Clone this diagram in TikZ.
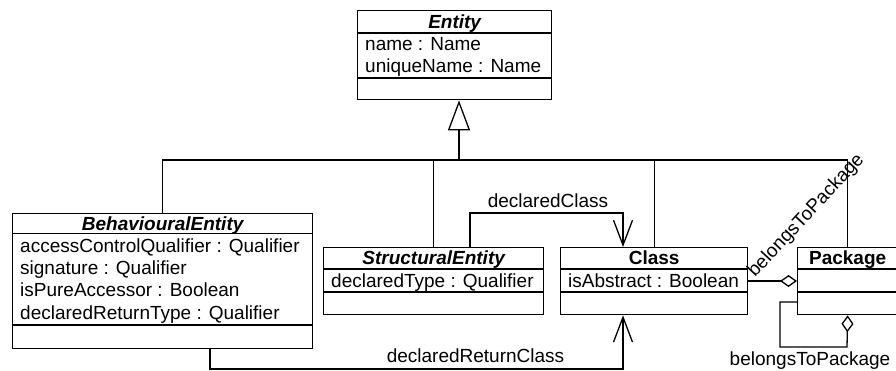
\documentclass[tikz,border=0pt]{standalone}
\usepackage{fontspec}
\setmainfont{Liberation Sans}
\usetikzlibrary{arrows.meta}
\begin{document}
\begin{tikzpicture}[x=1pt,y=1pt,
  box/.style={draw, line width=1.3pt, rectangle, inner sep=0pt},
  txt/.style={inner sep=0pt, font=\fontsize{19}{22}\selectfont},
  hdr/.style={inner sep=0pt, anchor=base, font=\fontsize{19}{22}\selectfont\bfseries},
  attr/.style={txt, anchor=base west},
  conn/.style={line width=1.3pt},
  gen/.style={conn, -{Triangle[open, length=30pt, width=22pt, line width=1.3pt]}},
  nav/.style={conn, -{Straight Barb[length=25pt, width=19pt, line width=1.3pt]}},
  agg/.style={conn, -{Diamond[open, length=17pt, width=12pt, line width=1.3pt]}},
]
\useasboundingbox[fill=white] (0,0) rectangle (896,-370);

% ---------- Entity ----------
\node[box, anchor=north west, minimum width=194pt, minimum height=89pt] (entity) at (357,-10) {};
\draw[conn] ([yshift=-23pt]entity.north west) -- ([yshift=-23pt]entity.north east);
\draw[conn] ([yshift=-68pt]entity.north west) -- ([yshift=-68pt]entity.north east);
\node[hdr] (entityN) at ([yshift=-18pt]entity.north) {\itshape Entity};
\node[attr] (entityA1) at ([xshift=8pt,yshift=-40pt]entity.north west) {name : Name};
\node[attr] (entityA2) at ([xshift=8pt,yshift=-62pt]entity.north west) {uniqueName : Name};

% ---------- BehaviouralEntity ----------
\node[box, anchor=north west, minimum width=300pt, minimum height=135pt] (beh) at (12,-213) {};
\draw[conn] ([yshift=-20.5pt]beh.north west) -- ([yshift=-20.5pt]beh.north east);
\draw[conn] ([yshift=-112pt]beh.north west) -- ([yshift=-112pt]beh.north east);
\node[hdr] (behN) at ([yshift=-17pt]beh.north) {\itshape BehaviouralEntity};
\node[attr] (behA1) at ([xshift=8pt,yshift=-39pt]beh.north west) {accessControlQualifier : Qualifier};
\node[attr] (behA2) at ([xshift=8pt,yshift=-61.3pt]beh.north west) {signature : Qualifier};
\node[attr] (behA3) at ([xshift=8pt,yshift=-83.6pt]beh.north west) {isPureAccessor : Boolean};
\node[attr] (behA4) at ([xshift=8pt,yshift=-106pt]beh.north west) {declaredReturnType : Qualifier};

% ---------- StructuralEntity ----------
\node[box, anchor=north west, minimum width=220pt, minimum height=67pt] (struct) at (323,-247) {};
\draw[conn] ([yshift=-22pt]struct.north west) -- ([yshift=-22pt]struct.north east);
\draw[conn] ([yshift=-45pt]struct.north west) -- ([yshift=-45pt]struct.north east);
\node[hdr] (structN) at ([yshift=-17pt]struct.north) {\itshape StructuralEntity};
\node[attr] (structA1) at ([xshift=8pt,yshift=-40pt]struct.north west) {declaredType : Qualifier};

% ---------- Class ----------
\node[box, anchor=north west, minimum width=187pt, minimum height=67pt] (cls) at (560,-247) {};
\draw[conn] ([yshift=-22pt]cls.north west) -- ([yshift=-22pt]cls.north east);
\draw[conn] ([yshift=-45pt]cls.north west) -- ([yshift=-45pt]cls.north east);
\node[hdr] (clsN) at ([yshift=-17pt]cls.north) {Class};
\node[attr] (clsA1) at ([xshift=8pt,yshift=-40pt]cls.north west) {isAbstract : Boolean};

% ---------- Package ----------
\node[box, anchor=north west, minimum width=100pt, minimum height=67pt] (pkg) at (797,-247) {};
\draw[conn] ([yshift=-22pt]pkg.north west) -- ([yshift=-22pt]pkg.north east);
\draw[conn] ([yshift=-45pt]pkg.north west) -- ([yshift=-45pt]pkg.north east);
\node[hdr] (pkgN) at ([yshift=-17pt]pkg.north) {Package};

% ---------- Generalization ----------
\coordinate (genjoin) at (459,-160);
\draw[gen] (genjoin) -- (entity.south -| genjoin);
\draw[conn] (beh.north) |- (pkg.north |- genjoin) -- (pkg.north);
\draw[conn] (struct.north) -- (struct.north |- genjoin);
\draw[conn] (cls.north) -- (cls.north |- genjoin);

% ---------- declaredClass ----------
\coordinate (dcA) at (470,-213);
\coordinate (dcB) at (623,-213);
\draw[nav] (struct.north -| dcA) -- (dcA) -- (dcB) -- (cls.north -| dcB);
\node[txt, anchor=base] (dcL) at (548,-207) {declaredClass};

% ---------- declaredReturnClass ----------
\coordinate (drA) at (210,-369);
\coordinate (drB) at (623,-369);
\draw[nav] (beh.south -| drA) -- (drA) -- (drB) -- (cls.south -| drB);
\node[txt, anchor=base] (drL) at (475.5,-362.5) {declaredReturnClass};

% ---------- belongsToPackage (Class - Package) ----------
\coordinate (aggy) at (0,-281);
\draw[agg] (cls.east |- aggy) -- (pkg.west |- aggy);
\node[txt, anchor=base west, rotate=47] (bpL1) at (755,-278) {belongsToPackage};

% ---------- belongsToPackage (Package - Package) ----------
\coordinate (sa1) at (780,-302);
\coordinate (sa2) at (780,-347);
\coordinate (sa3) at (847,-347);
\draw[agg] (pkg.west |- sa1) -- (sa1) -- (sa2) -- (sa3) -- (pkg.south);
\node[txt, anchor=base] (bpL2) at (810,-365) {belongsToPackage};
\end{tikzpicture}
\end{document}
